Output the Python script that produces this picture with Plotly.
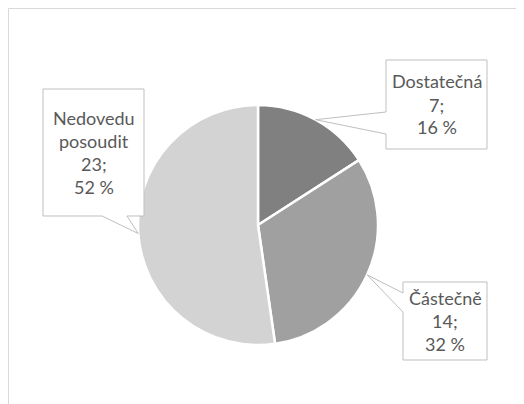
import math
import plotly.graph_objects as go

# ---- data ----
categories = ["Dostatečná", "Částečně", "Nedovedu posoudit"]
values = [7, 14, 23]
label_lines = [["Dostatečná"], ["Částečně"], ["Nedovedu", "posoudit"]]

# ---- styles / layout ----
OFF = 8  # browser body margin
W, H = 524 - OFF, 404 - OFF
CX, CY, R = 258, 225, 120
colors = ["#808080", "#a0a0a0", "#d3d3d3"]
text_color = "#595959"
box_line = "#bfbfbf"
LINE_H = 23

# callout boxes (screen pixel coords): x0, y0, x1, y1, side the pointer leaves from, base of pointer
boxes = [
    dict(x0=386, y0=60, x1=487, y1=149, side="left", b=(112, 134)),
    dict(x0=403, y0=282, x1=487, y1=360, side="left", b=(293, 312)),
    dict(x0=43, y0=89, x1=144, y1=216, side="bottom", b=(102, 127)),
]


def px(x):
    return (x - OFF) / W


def py(y):
    return 1 - (y - OFF) / H


fig = go.Figure(
    go.Pie(
        labels=categories,
        values=values,
        sort=False,
        direction="clockwise",
        rotation=0,
        marker=dict(colors=colors, line=dict(color="white", width=2.5)),
        textinfo="none",
        hoverinfo="label+value+percent",
        showlegend=False,
        domain=dict(x=[px(CX - R), px(CX + R)], y=[py(CY + R), py(CY - R)]),
    )
)

total = sum(values)
shapes = [
    dict(type="rect", xref="paper", yref="paper",
         x0=px(8.5), x1=px(516.5), y0=py(8.5), y1=py(420),
         line=dict(color="#d9d9d9", width=1), fillcolor="rgba(0,0,0,0)", layer="below")
]
annotations = []
cum = 0
for cat, v, lines, bx in zip(categories, values, label_lines, boxes):
    mid = (cum + v / 2) / total * 2 * math.pi
    cum += v
    tx = CX + R * math.sin(mid)
    ty = CY - R * math.cos(mid)
    x0, y0, x1, y1 = bx["x0"], bx["y0"], bx["x1"], bx["y1"]
    b1, b2 = bx["b"]
    if bx["side"] == "left":
        pts = [(x0, y0), (x1, y0), (x1, y1), (x0, y1), (x0, b2), (tx, ty), (x0, b1)]
    else:
        pts = [(x0, y0), (x1, y0), (x1, y1), (b2, y1), (tx, ty), (b1, y1), (x0, y1)]
    path = "M " + " L ".join(f"{px(a):.5f},{py(b):.5f}" for a, b in pts) + " Z"
    shapes.append(dict(type="path", xref="paper", yref="paper", path=path,
                       fillcolor="white", line=dict(color=box_line, width=1)))
    pct = round(v / total * 100)
    all_lines = lines + [f"{v};", f"{pct} %"]
    n = len(all_lines)
    cxb, cyb = (x0 + x1) / 2, (y0 + y1) / 2
    for i, ln in enumerate(all_lines):
        yy = cyb + (i - (n - 1) / 2) * LINE_H
        annotations.append(dict(
            text=ln, x=px(cxb), y=py(yy),
            xref="paper", yref="paper", xanchor="center", yanchor="middle",
            showarrow=False, align="center",
            font=dict(family="Lato", size=18, color=text_color),
        ))

fig.update_layout(
    width=W, height=H,
    margin=dict(l=0, r=0, t=0, b=0),
    paper_bgcolor="white", plot_bgcolor="white",
    shapes=shapes, annotations=annotations,
)

fig.write_html("out.html")
